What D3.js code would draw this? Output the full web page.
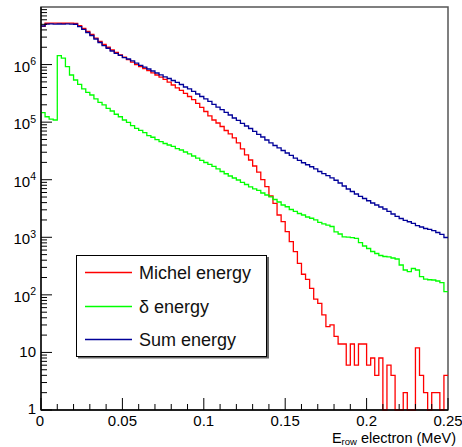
<!DOCTYPE html>
<html>
<head>
<meta charset="utf-8">
<script src="https://cdn.jsdelivr.net/npm/d3@7"></script>
<style>
  body { margin: 0; background: #fff; }
  text { font-family: "Liberation Sans", Arial, Helvetica, sans-serif; }
</style>
</head>
<body>
<div id="container"></div>
<script>
/* DATA: 100 bins from 0 to 0.25 MeV */
const xLow = 0, xHigh = 0.25, nBins = 100;

const michel = [
  4.6e6, 5.22e6, 5.25e6, 5.23e6, 5.24e6, 5.22e6, 5.25e6, 5.23e6, 5.2e6,
  4.73e6, 4.27e6, 3.76e6, 3.33e6, 2.89e6, 2.52e6, 2.23e6, 2.0e6, 1.79e6, 1.62e6, 1.47e6,
  1.34e6, 1.22e6, 1.10e6, 1.0e6, 9.26e5, 8.55e5, 7.83e5, 7.2e5, 6.59e5, 6.04e5,
  5.51e5, 4.95e5, 4.42e5, 3.95e5, 3.55e5, 3.15e5, 2.79e5, 2.47e5, 2.11e5, 1.80e5,
  1.53e5, 1.28e5, 1.09e5, 9.66e4, 8.4e4, 7.16e4, 6.23e4, 5.31e4, 4.35e4, 3.42e4,
  2.69e4, 2.2e4, 1.73e4, 1.36e4, 1.0e4, 7570, 5210, 3890, 2440, 1870,
  1250, 838, 562, 353, 228, 186, 130, 84, 71, 45,
  28, 30, 19, 14, 14, 6, 14, 6, 14, 14,
  6, 8, 4, 8, 1, 6, 4, 1, 1, 2,
  1, 1, 12, 4, 2, 1, 2, 2, 1, 4
];

const delta = [
  1.46e5, 1.24e5, 1.13e5, 1.09e5, 1.43e6, 1.29e6, 9.18e5, 6.59e5, 5.40e5, 4.54e5,
  3.77e5, 3.30e5, 2.96e5, 2.53e5, 2.21e5, 1.99e5, 1.74e5, 1.56e5, 1.37e5, 1.24e5,
  1.09e5, 9.94e4, 8.67e4, 7.82e4, 7.21e4, 6.56e4, 5.82e4, 5.46e4, 4.96e4, 4.57e4,
  4.26e4, 4.01e4, 3.78e4, 3.48e4, 3.28e4, 3.03e4, 2.80e4, 2.58e4, 2.38e4, 2.16e4,
  1.99e4, 1.85e4, 1.70e4, 1.54e4, 1.39e4, 1.27e4, 1.16e4, 1.07e4, 9890, 9020,
  8260, 7480, 6950, 6550, 5880, 5430, 5050, 4530, 4100, 3640,
  3390, 3040, 2810, 2590, 2440, 2250, 2140, 2000, 1810, 1710,
  1620, 1540, 1240, 1140, 1020, 1010, 990, 961, 805, 706,
  639, 566, 523, 483, 464, 455, 437, 420, 330, 270,
  253, 287, 270, 207, 188, 183, 181, 174, 163, 114
];

const sum = [
  4.68e6, 5.05e6, 5.08e6, 5.06e6, 5.07e6, 5.05e6, 5.08e6, 5.06e6, 5.02e6,
  4.55e6, 4.10e6, 3.61e6, 3.20e6, 2.78e6, 2.42e6, 2.14e6, 1.92e6, 1.72e6, 1.57e6, 1.44e6,
  1.32e6, 1.25e6, 1.16e6, 1.06e6, 9.71e5, 9.0e5, 8.37e5, 7.73e5, 7.14e5, 6.64e5,
  6.13e5, 5.73e5, 5.29e5, 4.89e5, 4.51e5, 4.08e5, 3.77e5, 3.41e5, 3.08e5, 2.79e5,
  2.53e5, 2.29e5, 2.04e5, 1.83e5, 1.65e5, 1.48e5, 1.33e5, 1.18e5, 1.07e5, 9.55e4,
  8.57e4, 7.76e4, 6.89e4, 6.11e4, 5.52e4, 4.90e4, 4.38e4, 3.93e4, 3.56e4, 3.22e4,
  2.91e4, 2.64e4, 2.38e4, 2.16e4, 1.97e4, 1.82e4, 1.68e4, 1.54e4, 1.39e4, 1.28e4,
  1.18e4, 1.08e4, 9780, 8770, 7780, 6900, 6240, 5650, 5150, 4720,
  4310, 3940, 3640, 3360, 3100, 2810, 2540, 2300, 2120, 1970,
  1860, 1740, 1600, 1510, 1420, 1370, 1310, 1210, 1120, 991
];

const xTicks = [0, 0.05, 0.1, 0.15, 0.2, 0.25];
const xTickLabels = ["0", "0.05", "0.1", "0.15", "0.2", "0.25"];
const yDecades = [0, 1, 2, 3, 4, 5, 6];   // labelled powers of ten
const legendLabels = ["Michel energy", "\u03b4 energy", "Sum energy"];

/* LAYOUT */
const width = 462, height = 447;
const frame = { left: 41, right: 448, top: 7, bottom: 410 };
const colors = ["#ff0000", "#00ff00", "#000099"];

const x = d3.scaleLinear().domain([xLow, xHigh]).range([frame.left, frame.right]);
const y = d3.scaleLog().domain([1, 1e7]).range([frame.bottom, frame.top]);

const svg = d3.select("#container").append("svg")
  .attr("width", width).attr("height", height);

// frame
svg.append("rect")
  .attr("x", frame.left).attr("y", frame.top)
  .attr("width", frame.right - frame.left).attr("height", frame.bottom - frame.top)
  .attr("fill", "none").attr("stroke", "#555").attr("stroke-width", 1.5);

// histograms as step lines
const binW = (xHigh - xLow) / nBins;
const stepLine = d3.line()
  .x(d => x(d[0]))
  .y(d => y(Math.max(d[1], 1)))
  .curve(d3.curveStepAfter);

[michel, delta, sum].forEach((vals, k) => {
  const pts = vals.map((v, i) => [xLow + i * binW, v]);
  pts.push([xHigh, vals[vals.length - 1]]);
  svg.append("path")
    .attr("d", stepLine(pts))
    .attr("fill", "none")
    .attr("stroke", colors[k])
    .attr("stroke-width", 1.3);
});

// x axis: ticks inside, going up
const xg = svg.append("g");
xg.append("line")
  .attr("x1", frame.left).attr("x2", frame.right)
  .attr("y1", frame.bottom).attr("y2", frame.bottom)
  .attr("stroke", "black").attr("stroke-width", 1.3);
d3.range(0, 26).forEach(i => {
  const v = i * 0.01;
  const major = i % 5 === 0;
  xg.append("line")
    .attr("x1", x(v)).attr("x2", x(v))
    .attr("y1", frame.bottom).attr("y2", frame.bottom - (major ? 12 : 6))
    .attr("stroke", "black");
});
xg.selectAll("text.xl").data(xTicks).join("text")
  .attr("class", "xl")
  .attr("x", (d, i) => x(d) - (i === 0 ? 1 : 0))
  .attr("y", 426)
  .attr("text-anchor", "middle")
  .attr("font-size", 15)
  .text((d, i) => xTickLabels[i]);

// x title
const xt = svg.append("text")
  .attr("x", 456).attr("y", 443)
  .attr("text-anchor", "end")
  .attr("font-size", 14.5);
xt.append("tspan").text("E");
xt.append("tspan").attr("font-size", 9.5).attr("dy", 2).text("row");
xt.append("tspan").attr("dy", -2).text(" electron (MeV)");

// y axis: ticks inside, going right
const yg = svg.append("g");
yg.append("line")
  .attr("x1", frame.left).attr("x2", frame.left)
  .attr("y1", frame.top).attr("y2", frame.bottom)
  .attr("stroke", "black").attr("stroke-width", 1.3);
d3.range(0, 7).forEach(p => {
  d3.range(1, 10).forEach(m => {
    const v = m * Math.pow(10, p);
    yg.append("line")
      .attr("x1", frame.left).attr("x2", frame.left + (m === 1 ? 11 : 6))
      .attr("y1", y(v)).attr("y2", y(v))
      .attr("stroke", "black");
  });
});
yDecades.forEach(p => {
  const ty = y(Math.pow(10, p));
  const t = yg.append("text")
    .attr("x", 36)
    .attr("text-anchor", "end")
    .attr("font-size", 15);
  if (p === 0) {
    t.attr("y", ty + 4).text("1");
  } else if (p === 1) {
    t.attr("y", ty + 5).text("10");
  } else {
    t.attr("y", ty + 7);
    t.append("tspan").text("10");
    t.append("tspan").attr("font-size", 10.5).attr("dy", -6.5).text(p);
  }
});

// legend
const lg = svg.append("g");
lg.append("path")
  .attr("d", "M78,357.5 H268 V257")
  .attr("fill", "none").attr("stroke", "#666").attr("stroke-width", 2);
lg.append("rect")
  .attr("x", 76.5).attr("y", 255.5).attr("width", 190).attr("height", 101)
  .attr("fill", "white").attr("stroke", "black").attr("stroke-width", 1);
const rowsY = [272.5, 306.5, 339.5];
legendLabels.forEach((lab, i) => {
  lg.append("line")
    .attr("x1", 85).attr("x2", 132)
    .attr("y1", rowsY[i]).attr("y2", rowsY[i])
    .attr("stroke", colors[i]).attr("stroke-width", 1.3);
  lg.append("text")
    .attr("x", 139).attr("y", rowsY[i] + 6)
    .attr("font-size", 18)
    .attr("fill", "#111")
    .text(lab);
});
</script>
</body>
</html>
